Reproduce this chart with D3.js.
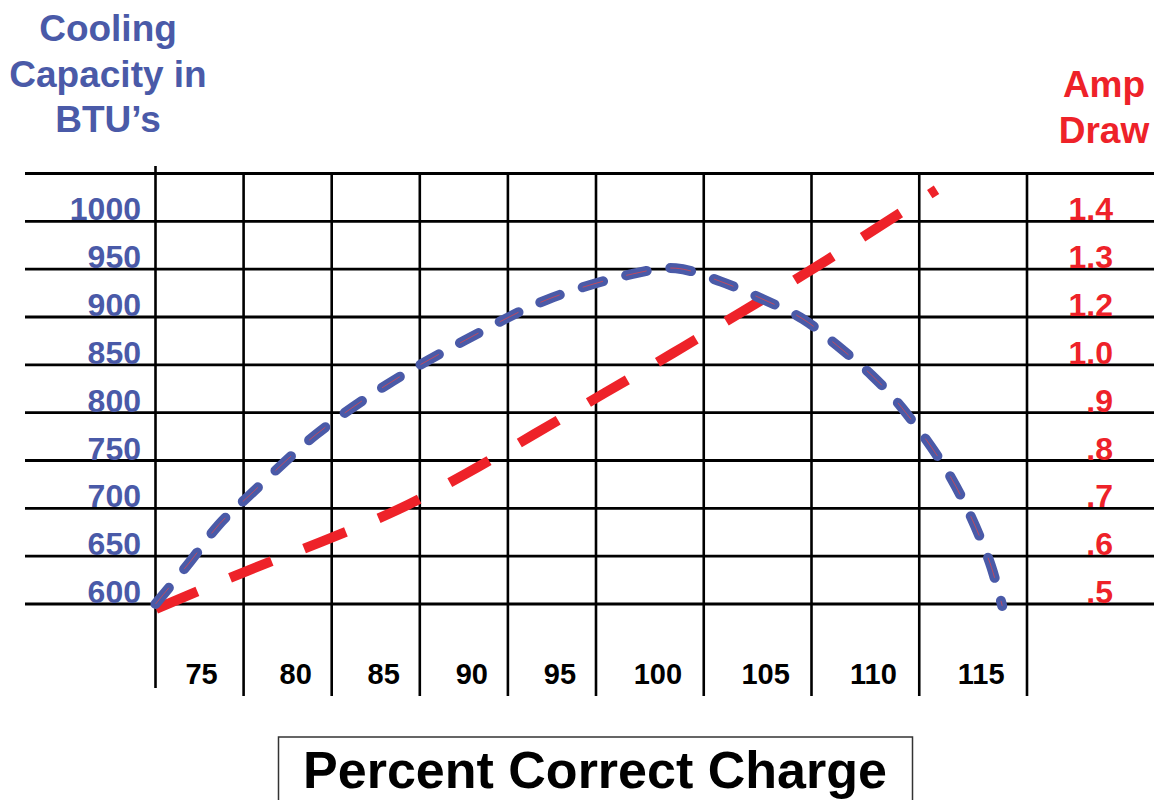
<!DOCTYPE html>
<html>
<head>
<meta charset="utf-8">
<script src="https://cdn.jsdelivr.net/npm/d3@7"></script>
<style>
    body { margin: 0; background: #fff; }
    text { font-family: "Liberation Sans", Arial, sans-serif; font-weight: bold; }
</style>
</head>
<body>
<div id="chart"></div>
<script>
// values
var btuTicks = [600, 650, 700, 750, 800, 850, 900, 950, 1000];
var ampTicks = [0.5, 0.6, 0.7, 0.8, 0.9, 1.0, 1.2, 1.3, 1.4];
var ampLabels = [".5", ".6", ".7", ".8", ".9", "1.0", "1.2", "1.3", "1.4"];
var chargeTicks = [75, 80, 85, 90, 95, 100, 105, 110, 115];
var chargeGrid = [72.5, 77.5, 82.5, 87.5, 92.5, 97.5, 102.5, 107.5, 112.5, 117.5];

// cooling capacity curve (BTU)
var capCharge = [72.5, 74.5, 76.1, 77.8, 81.6, 85.7, 90.1, 94.7, 99.2, 101.2, 103.3, 105.2, 107.1, 108.7, 110.3, 111.7, 114.0, 115.7, 116.35];
var capBtu = [600, 645, 683, 713, 777, 830, 876, 918, 945, 951, 937, 919, 898, 870, 839, 805, 731, 648, 598];

// amp draw curve
var ampCharge = [72.53, 77.75, 81.9, 86.3, 90.1, 94.0, 97.9, 101.05, 104.2, 107.4, 110.5, 113.3];
var ampDraw = [0.49, 0.57, 0.63, 0.698, 0.772, 0.855, 0.941, 1.048, 1.209, 1.296, 1.385, 1.466];

var blue = "#4a5aa8";
var red = "#ee2229";

var width = 1154;
var height = 800;

var svg = d3.select("#chart")
    .append("svg")
    .attr("width", width)
    .attr("height", height);

// scales (the charge axis is wider on the right half)
var x = d3.scaleLinear()
    .domain([72.5, 97.5, 117.5])
    .range([155.5, 596, 1027]);

var y = d3.scaleLinear()
    .domain([600, 1050])
    .range([604, 173.5]);

var yAmp = d3.scaleLinear()
    .domain(ampTicks)
    .range(btuTicks.map(function (d) { return y(d); }));

// grid
var gridY = btuTicks.concat([1050]);
svg.selectAll(".hline")
    .data(gridY)
    .enter().append("line")
    .attr("class", "hline")
    .attr("x1", 25)
    .attr("x2", width)
    .attr("y1", function (d) { return y(d); })
    .attr("y2", function (d) { return y(d); })
    .attr("stroke", "#000")
    .attr("stroke-width", 2.8);

svg.selectAll(".vline")
    .data(chargeGrid)
    .enter().append("line")
    .attr("class", "vline")
    .attr("x1", function (d) { return x(d); })
    .attr("x2", function (d) { return x(d); })
    .attr("y1", function (d, i) { return i === 0 ? 166 : 173; })
    .attr("y2", function (d, i) { return i === 0 ? 688 : 696; })
    .attr("stroke", "#000")
    .attr("stroke-width", 2.6);

// left labels
svg.selectAll(".btu")
    .data(btuTicks)
    .enter().append("text")
    .attr("class", "btu")
    .attr("x", 141)
    .attr("y", function (d) { return y(d) - 1; })
    .attr("text-anchor", "end")
    .attr("fill", blue)
    .style("font-size", "32px")
    .text(function (d) { return d; });

// right labels
svg.selectAll(".amp")
    .data(ampTicks)
    .enter().append("text")
    .attr("class", "amp")
    .attr("x", 1113)
    .attr("y", function (d) { return yAmp(d) - 1; })
    .attr("text-anchor", "end")
    .attr("fill", red)
    .style("font-size", "32px")
    .text(function (d, i) { return ampLabels[i]; });

// bottom labels
svg.selectAll(".charge")
    .data(chargeTicks)
    .enter().append("text")
    .attr("class", "charge")
    .attr("x", function (d, i) { return x(d) + (i === 0 ? 2 : 8); })
    .attr("y", 684)
    .attr("text-anchor", "middle")
    .attr("fill", "#000")
    .style("font-size", "29px")
    .text(function (d) { return d; });

// axis titles
var leftTitle = ["Cooling", "Capacity in", "BTU\u2019s"];
svg.selectAll(".ltitle")
    .data(leftTitle)
    .enter().append("text")
    .attr("class", "ltitle")
    .attr("x", 108)
    .attr("y", function (d, i) { return 41 + i * 45.5; })
    .attr("text-anchor", "middle")
    .attr("fill", blue)
    .style("font-size", "37px")
    .text(function (d) { return d; });

var rightTitle = ["Amp", "Draw"];
svg.selectAll(".rtitle")
    .data(rightTitle)
    .enter().append("text")
    .attr("class", "rtitle")
    .attr("x", 1104)
    .attr("y", function (d, i) { return 97 + i * 46; })
    .attr("text-anchor", "middle")
    .attr("fill", red)
    .style("font-size", "37px")
    .text(function (d) { return d; });

svg.append("rect")
    .attr("x", 278.5)
    .attr("y", 737)
    .attr("width", 634)
    .attr("height", 80)
    .attr("fill", "none")
    .attr("stroke", "#333")
    .attr("stroke-width", 1.5);

svg.append("text")
    .attr("x", 595)
    .attr("y", 788)
    .attr("text-anchor", "middle")
    .attr("fill", "#000")
    .style("font-size", "52px")
    .text("Percent Correct Charge");

// curves
var capLine = d3.line()
    .x(function (d, i) { return x(capCharge[i]); })
    .y(function (d) { return y(d); })
    .curve(d3.curveCatmullRom.alpha(0.5));

var ampLine = d3.line()
    .x(function (d, i) { return x(ampCharge[i]); })
    .y(function (d) { return yAmp(d); })
    .curve(d3.curveCatmullRom.alpha(0.5));

svg.append("path")
    .attr("d", ampLine(ampDraw))
    .attr("fill", "none")
    .attr("stroke", red)
    .attr("stroke-width", 10)
    .attr("stroke-dasharray", "45,35");

svg.append("path")
    .attr("d", capLine(capBtu))
    .attr("fill", "none")
    .attr("stroke", blue)
    .attr("stroke-width", 10)
    .attr("stroke-linecap", "round")
    .attr("stroke-dasharray", "21,24");

svg.append("path")
    .attr("d", capLine(capBtu))
    .attr("fill", "none")
    .attr("stroke", "#d9464f")
    .attr("stroke-width", 0.8)
    .attr("stroke-dasharray", "21,24");
</script>
</body>
</html>
